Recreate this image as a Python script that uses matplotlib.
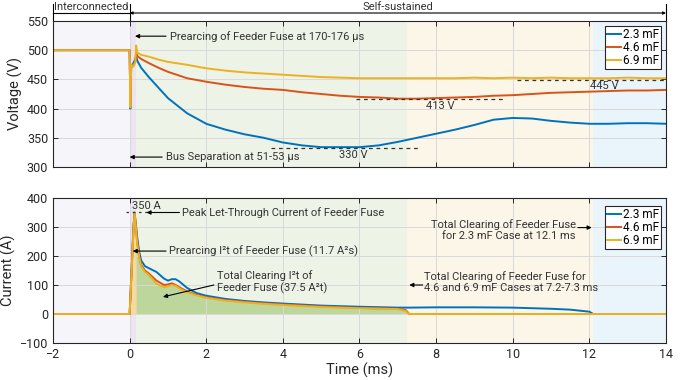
import matplotlib
matplotlib.use("Agg")
import matplotlib.pyplot as plt
import matplotlib.transforms as mtransforms
import numpy as np

plt.rcParams['font.family'] = ['Roboto', 'DejaVu Sans']

# ---------------- data ----------------
labels = ["2.3 mF", "4.6 mF", "6.9 mF"]
colors = ["#0072BD", "#D95319", "#EDB120"]

t_v = [-2, -0.01, 0.0, 0.005, 0.02, 0.04, 0.1, 0.15, 0.17, 0.2, 0.3, 0.5, 0.75, 1.0, 1.5, 2.0,
       2.5, 3.0, 3.5, 4.0, 4.5, 5.0, 5.5, 6.0, 6.5, 7.0, 7.5, 8.0, 8.5, 9.0, 9.5, 10.0,
       10.5, 11.0, 11.5, 12.0, 12.5, 13.0, 13.5, 14.0]
v_23 = [500, 500, 500, 472, 400, 470, 478, 485, 490, 482, 470, 454, 436, 418, 392, 374,
        364, 356, 350, 342, 337, 334, 334, 334, 337, 343, 350, 357, 364, 372, 381, 384,
        383, 379, 376, 374, 374, 375, 375, 374]
v_46 = [500, 500, 500, 475, 410, 472, 475, 480, 497, 490, 485, 478, 470, 463, 452, 446,
        441, 437, 434, 432, 428, 425, 422, 420, 419, 417, 417, 418, 419, 420, 422, 423,
        425, 427, 428, 429, 430, 431, 431, 432]
v_69 = [500, 500, 500, 476, 402, 475, 472, 480, 508, 496, 492, 489, 484, 480, 475, 469,
        465, 462, 460, 458, 456, 454, 453, 452, 452, 452, 452, 452, 452, 453, 452, 453,
        452, 453, 452, 452, 452, 453, 452, 452]

t_i = [-2, 0.0, 0.05, 0.1, 0.13, 0.17, 0.2, 0.25, 0.3, 0.4, 0.5, 0.7, 0.9, 1.0, 1.1, 1.2,
       1.3, 1.5, 1.75, 2.0, 2.5, 3.0, 3.5, 4.0, 5.0, 6.0, 7.0, 7.2, 7.3, 8.0, 9.0, 10.0,
       11.0, 11.5, 12.0, 12.1, 12.2, 14.0]
i_23 = [0, 0, 150, 300, 350, 300, 262, 215, 185, 165, 158, 145, 122, 115, 120, 120,
        112, 90, 72, 63, 52, 45, 40, 36, 29, 25, 22, 22, 22, 23, 23, 22,
        18, 15, 8, 0, 0, 0]
i_46 = [0, 0, 145, 295, 348, 292, 245, 200, 170, 150, 140, 115, 100, 102, 106, 100,
        92, 78, 66, 58, 48, 42, 37, 33, 26, 21, 18, 14, 0, 0, 0, 0,
        0, 0, 0, 0, 0, 0]
i_69 = [0, 0, 140, 290, 350, 285, 240, 195, 165, 145, 135, 105, 92, 95, 100, 97,
        88, 75, 64, 56, 46, 40, 35, 31, 24, 20, 17, 10, 0, 0, 0, 0,
        0, 0, 0, 0, 0, 0]

# regions (ms)
t_sep = 0.0
t_prearc = 0.17
t_clear_46_69 = 7.25
t_clear_23 = 12.1

# ---------------- figure ----------------
fig = plt.figure(figsize=(6.86, 3.80), dpi=100)
W, H = 686, 380
axL, axW = 53 / W, 613 / W
ax1 = fig.add_axes([axL, 1 - 167 / H, axW, 146 / H])
ax2 = fig.add_axes([axL, 1 - 343 / H, axW, 145 / H])

spine_c = "#262626"
txt_c = "#333333"
FS = 8

def shade(ax):
    ax.axvspan(-2, t_sep, color="#f6f5f9", lw=0, zorder=0)
    ax.axvspan(t_sep, t_prearc, color="#ece3f3", lw=0, zorder=0)
    ax.axvspan(t_prearc, t_clear_46_69, color="#eef3e7", lw=0, zorder=0)
    ax.axvspan(t_clear_46_69, t_clear_23, color="#fbf6e8", lw=0, zorder=0)
    ax.axvspan(t_clear_23, 14, color="#eaf5fb", lw=0, zorder=0)

def style(ax):
    ax.set_xlim(-2, 14)
    ax.set_xticks(range(-2, 15, 2))
    ax.grid(True, color="#d9d9d9", lw=0.7, zorder=1)
    ax.set_axisbelow(False)
    ax.tick_params(direction="in", top=True, right=True, labelsize=9,
                   colors=spine_c, length=3.5, width=0.7)
    for s in ax.spines.values():
        s.set_color(spine_c)
        s.set_linewidth(0.8)
        s.set_zorder(5)

def legend(ax, dy):
    leg = ax.legend(loc="upper right", bbox_to_anchor=(1 - 5 / 613, 1 - dy), fontsize=8.5,
                    fancybox=False, edgecolor=spine_c, framealpha=1, borderpad=0.15,
                    labelspacing=0.0, handlelength=1.2, handletextpad=0.15,
                    borderaxespad=0)
    leg.get_frame().set_linewidth(0.8)

# ---------- voltage ----------
shade(ax1)
for v, c, l in zip([v_23, v_46, v_69], colors, labels):
    ax1.plot(t_v, v, color=c, lw=1.4, label=l, zorder=3)
ax1.set_ylim(300, 550)
ax1.set_yticks(range(300, 551, 50))
style(ax1)
ax1.set_xticklabels([])
ax1.set_ylabel("Voltage (V)", fontsize=10.5, color=spine_c, labelpad=3)
legend(ax1, 5 / 146)

# dashed level lines
ax1.plot([3.7, 7.6], [333, 333], ls=(0, (3, 3)), color=txt_c, lw=0.9, zorder=4)
ax1.text(5.85, 321, "330 V", fontsize=FS, ha="center", va="center", color=txt_c)
ax1.plot([5.9, 9.8], [416.5, 416.5], ls=(0, (3, 3)), color=txt_c, lw=0.9, zorder=4)
ax1.text(8.1, 404, "413 V", fontsize=FS, ha="center", va="center", color=txt_c)
ax1.plot([10.1, 14], [449, 449], ls=(0, (3, 3)), color=txt_c, lw=0.9, zorder=4)
ax1.text(12.4, 439, "445 V", fontsize=FS, ha="center", va="center", color=txt_c)

arrow_kw = dict(arrowstyle="-|>", color="black", lw=0.8, mutation_scale=6, shrinkA=0, shrinkB=0)
ax1.annotate("", xy=(0.14, 524), xytext=(0.95, 524), arrowprops=arrow_kw, zorder=6)
ax1.text(1.05, 524, "Prearcing of Feeder Fuse at 170-176 µs", fontsize=FS,
         va="center", ha="left", color=txt_c)
ax1.annotate("", xy=(0.0, 317), xytext=(0.85, 317), arrowprops=arrow_kw, zorder=6)
ax1.text(0.95, 317, "Bus Separation at 51-53 µs", fontsize=FS,
         va="center", ha="left", color=txt_c)

# top period bar
trans = mtransforms.blended_transform_factory(ax1.transData, ax1.transAxes)
y_line = 1 + 8 / 146
for xb in (-2, 0):
    ax1.plot([xb, xb], [1 + 1 / 146, 1 + 17 / 146], transform=trans, color="black",
             lw=0.8, clip_on=False)
ax1.plot([14, 14], [1, 1 + 17 / 146], transform=trans, color="black", lw=0.8, clip_on=False)
ax1.plot([-2, 0], [y_line, y_line], transform=trans, color="black", lw=0.8, clip_on=False)
ax1.annotate("", xy=(0.0, y_line), xytext=(14, y_line), xycoords=trans, textcoords=trans,
             arrowprops=dict(arrowstyle="<|-|>", color="black", lw=0.8, mutation_scale=4,
                             shrinkA=0, shrinkB=0), annotation_clip=False)
ax1.text(-1.0, y_line + 0.005, "Interconnected", transform=trans, fontsize=FS,
         ha="center", va="bottom", color=txt_c)
ax1.text(7.0, y_line + 0.005, "Self-sustained", transform=trans, fontsize=FS,
         ha="center", va="bottom", color=txt_c)

# ---------- current ----------
shade(ax2)
ti = np.array(t_i)
iy = np.array(i_69)
ax2.fill_between(ti, 0, iy, where=(ti >= 0) & (ti <= t_prearc), color="#f4d9a2",
                 lw=0, zorder=2, interpolate=True)
ax2.fill_between(ti, 0, iy, where=(ti >= t_prearc) & (ti <= 7.3), color="#bcd69c",
                 lw=0, zorder=2, interpolate=True)
for v, c, l in zip([i_23, i_46, i_69], colors, labels):
    ax2.plot(t_i, v, color=c, lw=1.4, label=l, zorder=3)
ax2.set_ylim(-100, 400)
ax2.set_yticks(range(-100, 401, 100))
style(ax2)
ax2.set_xlabel("Time (ms)", fontsize=10.5, color=spine_c, labelpad=1)
ax2.set_ylabel("Current (A)", fontsize=10.5, color=spine_c, labelpad=3)
legend(ax2, 8 / 145)

ax2.plot([-0.1, 0.5], [352, 352], ls=(0, (2, 3)), color=txt_c, lw=0.9, zorder=4)
ax2.text(0.05, 372, "350 A", fontsize=FS, ha="left", va="center", color=txt_c)
ax2.annotate("", xy=(0.44, 350), xytext=(1.3, 350), arrowprops=arrow_kw, zorder=6)
ax2.text(1.38, 350, "Peak Let-Through Current of Feeder Fuse", fontsize=FS,
         va="center", ha="left", color=txt_c)
ax2.annotate("", xy=(0.08, 217), xytext=(0.95, 217), arrowprops=arrow_kw, zorder=6)
ax2.text(1.02, 217, "Prearcing I²t of Feeder Fuse (11.7 A²s)", fontsize=FS,
         va="center", ha="left", color=txt_c)
ax2.annotate("", xy=(0.87, 59), xytext=(2.2, 100), arrowprops=arrow_kw, zorder=6)
ax2.text(2.27, 111, "Total Clearing I²t of\nFeeder Fuse (37.5 A²t)", fontsize=FS,
         va="center", ha="left", color=txt_c, linespacing=1.15)
ax2.annotate("", xy=(12.06, 298), xytext=(11.7, 298), arrowprops=arrow_kw, zorder=6)
ax2.text(11.65, 290, "Total Clearing of Feeder Fuse\nfor 2.3 mF Case at 12.1 ms",
         fontsize=FS, va="center", ha="right", color=txt_c, linespacing=1.15,
         multialignment="right")
ax2.annotate("", xy=(7.3, 100), xytext=(7.65, 100), arrowprops=arrow_kw, zorder=6)
ax2.text(7.68, 110, "Total Clearing of Feeder Fuse for\n4.6 and 6.9 mF Cases at 7.2-7.3 ms",
         fontsize=FS, va="center", ha="left", color=txt_c, linespacing=1.15)

fig.savefig("out.png", dpi=100)
